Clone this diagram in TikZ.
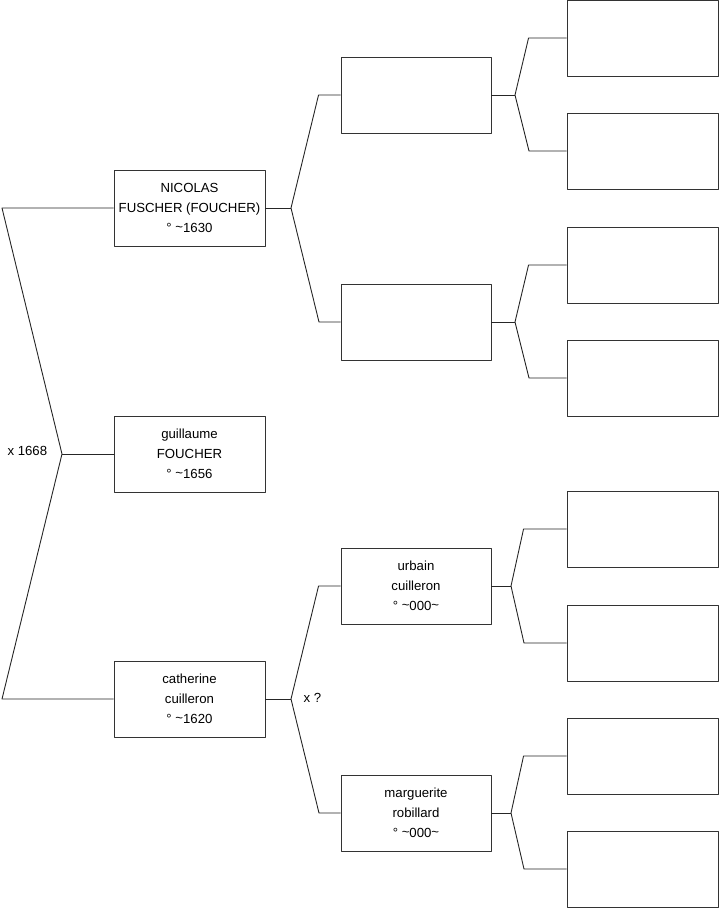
\documentclass[tikz,border=0pt]{standalone}
\usepackage{fontspec}
\setmainfont{Liberation Sans}
\newcommand{\tld}{\raisebox{0.15ex}{\textasciitilde}}
\begin{document}
\begin{tikzpicture}[x=1pt, y=-1pt, line join=round,
	person/.style={draw=black!80, line width=0.9pt, minimum width=151pt, minimum height=76pt, inner sep=0pt, align=center, font=\fontsize{13.2}{20}\selectfont},
	link/.style={black!85, line width=0.9pt}]
	\useasboundingbox (0,0) rectangle (719,908);
	% first generation
	\node[person] (nicolas) at (189.5,208) {NICOLAS\\FUSCHER (FOUCHER)\\° \tld1630};
	\node[person] (guillaume) at (189.5,454) {guillaume\\FOUCHER\\° \tld1656};
	\node[person] (catherine) at (189.5,699) {catherine\\cuilleron\\° \tld1620};
	% second generation
	\node[person, minimum width=150pt] (pa) at (416,95) {};
	\node[person, minimum width=150pt] (pb) at (416,322) {};
	\node[person, minimum width=150pt] (urbain) at (416,586) {urbain\\cuilleron\\° \tld000\tld};
	\node[person, minimum width=150pt] (marguerite) at (416,813) {marguerite\\robillard\\° \tld000\tld};
	% third generation
	\foreach \y [count=\i] in {38,151,265,378,529,643,756,869}
		\node[person] (g\i) at (642.5,\y) {};
	% couple forks
	\coordinate (top) at (2,208);
	\coordinate (mid) at (62,454);
	\coordinate (bot) at (2,699);
	\draw[link] (nicolas.west) -- (top) -- (mid) -- (bot) -- (catherine.west);
	\draw[link] (mid) -- (guillaume.west);
	\node[anchor=west, font=\fontsize{13.2}{15}\selectfont] (mar1) at (4,451) {x 1668};
	\coordinate (fn) at (291,208);
	\draw[link] (nicolas.east) -- (fn);
	\draw[link] (pa.west) -- ++(-22,0) -- (fn) -- (319,322) -- (pb.west);
	\coordinate (fc) at (291,699);
	\draw[link] (catherine.east) -- (fc);
	\draw[link] (urbain.west) -- ++(-22,0) -- (fc) -- (319,813) -- (marguerite.west);
	\node[anchor=west, font=\fontsize{13.2}{15}\selectfont] (mar2) at (300,698) {x ?};
	% parents forks
	\coordinate (fa) at (515,95);
	\draw[link] (pa.east) -- (fa);
	\draw[link] (g1.west) -- ++(-38,0) -- (fa) -- (529,151) -- (g2.west);
	\coordinate (fb) at (515,322);
	\draw[link] (pb.east) -- (fb);
	\draw[link] (g3.west) -- ++(-38,0) -- (fb) -- (529,378) -- (g4.west);
	\coordinate (fu) at (511,586);
	\draw[link] (urbain.east) -- (fu);
	\draw[link] (g5.west) -- ++(-43,0) -- (fu) -- (524,643) -- (g6.west);
	\coordinate (fm) at (511,813);
	\draw[link] (marguerite.east) -- (fm);
	\draw[link] (g7.west) -- ++(-43,0) -- (fm) -- (524,869) -- (g8.west);
\end{tikzpicture}
\end{document}
